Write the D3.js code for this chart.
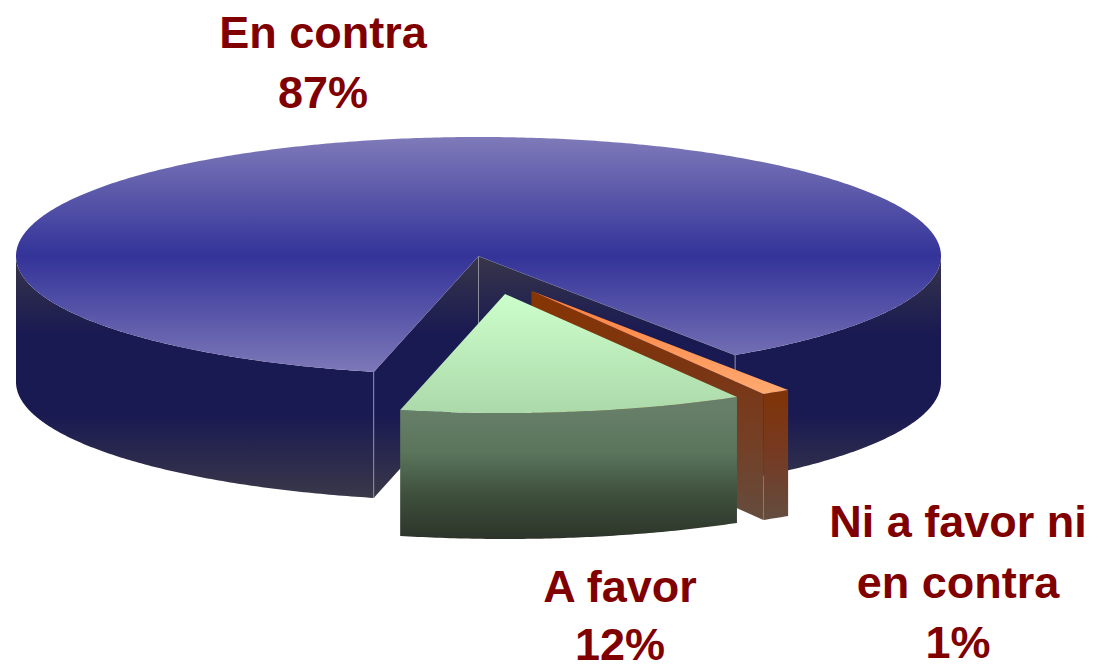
<!DOCTYPE html>
<html><head><meta charset="utf-8">
<script src="https://cdn.jsdelivr.net/npm/d3@7/dist/d3.min.js"></script>
<style>html,body{margin:0;padding:0;background:#fff}svg{display:block}
text{font-family:"Liberation Sans",Arial,sans-serif;font-weight:700;fill:#800000;text-anchor:middle}</style>
</head><body><svg id="c" width="1098" height="664"></svg>
<script>
const categories = ["A favor", "Ni a favor ni en contra", "En contra"];
const percentages = [12, 1, 87];
const labelLines = [["A favor", "12%"], ["Ni a favor ni", "en contra", "1%"], ["En contra", "87%"]];

const W = 1098, H = 664;
const svg = d3.select("#c");
const defs = svg.append("defs");
const CX = 478.5, CY = 256, RX = 462.5, RY = 119, DEPTH = 126;
const explode = [[26.5, 38], [53, 35], [0, 0]];
const startDeg = -13.1;

const topStops = [["#7f7ab9", "#333399", "#7f7ab9"], ["#ccffcc", "#acd9a9"], ["#ff7d3c", "#ffaa70"]];
const labelPos = [[620, [602, 660]], [958, [537, 598, 658]], [323, [48, 108]]];

const sx = d3.scaleLinear().domain([-1, 1]).range([CX - RX, CX + RX]);
const sy = d3.scaleLinear().domain([-1, 1]).range([CY - RY, CY + RY]);

const pie = d3.pie().sort(null)
  .startAngle(startDeg * Math.PI / 180)
  .endAngle(startDeg * Math.PI / 180 + 2 * Math.PI);
const arcs = pie(percentages);

const pt = (a, o) => [sx(Math.sin(a)) + o[0], sy(Math.cos(a)) + o[1]];
const centre = o => [sx(0) + o[0], sy(0) + o[1]];
const line = d3.line();
const samples = (a0, a1) => {
  const n = Math.max(2, Math.ceil(Math.abs(a1 - a0) / 0.01));
  return d3.range(n + 1).map(i => a0 + (a1 - a0) * i / n);
};
const down = p => [p[0], p[1] + DEPTH];

function grad(id, y0, y1, stops) {
  const g = defs.append("linearGradient").attr("id", id)
    .attr("gradientUnits", "userSpaceOnUse")
    .attr("x1", 0).attr("x2", 0).attr("y1", y0).attr("y2", y1);
  stops.forEach((c, i) => g.append("stop").attr("offset", i / (stops.length - 1)).attr("stop-color", c));
  return `url(#${id})`;
}

// outer visible band between two angles
function band(a0, a1, o) {
  const t = samples(a0, a1).map(a => pt(a, o));
  return line(t.concat(t.map(down).reverse())) + "Z";
}
function wall(a, o) {
  const c = centre(o), p = pt(a, o);
  return line([c, p, down(p), down(c)]) + "Z";
}
function topFace(a0, a1, o) {
  return line([centre(o)].concat(samples(a0, a1).map(a => pt(a, o)))) + "Z";
}

const [fav, ni, con] = arcs;
const oF = explode[0], oN = explode[1], oC = explode[2];
const edge = "#8d8da0";

// --- En contra ---
const sideC = grad("sideC", sy(0) - 6, sy(0) + 242, ["#3a3849", "#1a1a52", "#1a1a52", "#3a3849"]);
const sC = svg.append("g");
// front of the band (right part and left part)
sC.append("path").attr("d", band(con.startAngle, Math.PI / 2, oC)).attr("fill", sideC);
sC.append("path").attr("d", band(3 * Math.PI / 2, con.endAngle, oC)).attr("fill", sideC);
// inner walls
sC.append("path").attr("d", wall(con.startAngle, oC)).attr("fill", sideC);
sC.append("path").attr("d", wall(con.endAngle, oC)).attr("fill", sideC);
// vertical edges
[centre(oC), pt(con.startAngle, oC), pt(con.endAngle, oC)].forEach(p =>
  sC.append("path").attr("d", line([p, down(p)])).attr("stroke", edge).attr("stroke-width", 1).attr("fill", "none"));
// wall top & bottom edges
[con.startAngle, con.endAngle].forEach(a =>
  sC.append("path").attr("d", line([centre(oC), pt(a, oC)])).attr("stroke", edge).attr("stroke-width", 0.8).attr("fill", "none"));
sC.append("path").attr("d", topFace(con.startAngle, con.endAngle, oC))
  .attr("fill", grad("topC", sy(-1), sy(1), topStops[2 - 2]));

// --- Ni a favor ni en contra ---
const sideN = grad("sideN", 291, 521, ["#873503", "#7b3512", "#744026", "#644c3e"]);
const sN = svg.append("g");
sN.append("path").attr("d", wall(ni.startAngle, oN)).attr("fill", sideN);
sN.append("path").attr("d", band(ni.startAngle, ni.endAngle, oN))
  .attr("fill", grad("outerN", pt(ni.endAngle, oN)[1], pt(ni.endAngle, oN)[1] + DEPTH, ["#803406", "#763a22", "#644c3e"]));
{
  const p = pt(ni.startAngle, oN);
  sN.append("path").attr("d", line([[p[0], p[1] + 92], down(p)])).attr("stroke", "#8a7a70").attr("stroke-width", 0.8);
}
sN.append("path").attr("d", topFace(ni.startAngle, ni.endAngle, oN))
  .attr("fill", grad("topN", centre(oN)[1], pt(ni.startAngle, oN)[1], topStops[2]));

// --- A favor ---
const sF = svg.append("g");
sF.append("path").attr("d", band(fav.startAngle, fav.endAngle, oF))
  .attr("fill", grad("sideF", sy(0) + oF[1] + 115, sy(1) + oF[1] + DEPTH, ["#677f68", "#5a755c", "#3e4f3c", "#2c3429"]));
sF.append("path").attr("d", topFace(fav.startAngle, fav.endAngle, oF))
  .attr("fill", grad("topF", centre(oF)[1], sy(1) + oF[1], topStops[1]));

// --- Labels ---
svg.append("g").selectAll("g").data(labelLines).join("g").each(function (lines, i) {
  d3.select(this).selectAll("text").data(lines).join("text")
    .attr("x", labelPos[i][0]).attr("y", (d, j) => labelPos[i][1][j])
    .attr("font-size", 45).text(d => d);
});
</script></body></html>
